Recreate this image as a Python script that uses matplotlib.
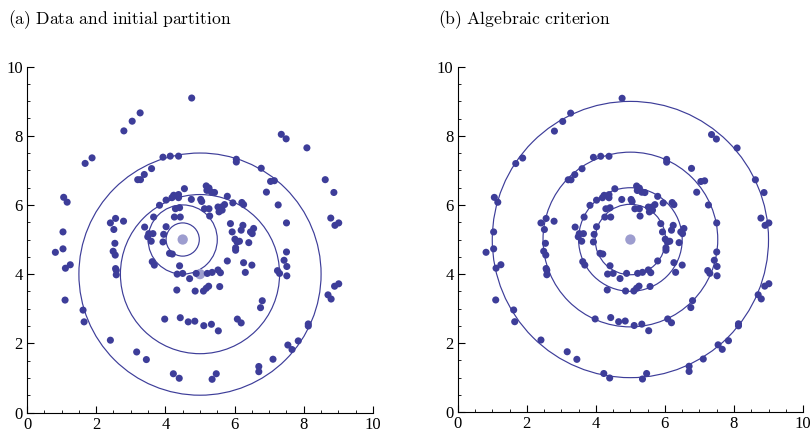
import matplotlib
matplotlib.use("Agg")
import matplotlib.pyplot as plt
from matplotlib.patches import Circle
from matplotlib.ticker import MultipleLocator
import numpy as np

# ─── Data ─────────────────────────────────────────────────────────────────────
# outer ring
x_outer = [4.76, 3.27, 3.04, 2.80, 1.88, 1.68, 1.06, 1.16, 1.04, 1.04, 0.82, 1.11,
           1.25, 1.10, 1.62, 1.65, 2.41, 3.17, 3.45, 4.23, 4.40, 5.35, 5.47, 6.70,
           6.70, 7.11, 7.54, 7.66, 7.84, 8.13, 8.13, 8.70, 8.79, 8.89, 9.01, 8.78,
           8.90, 9.01, 8.87, 8.62, 8.09, 7.49, 7.35]
y_outer = [9.09, 8.66, 8.42, 8.14, 7.36, 7.20, 6.22, 6.08, 5.22, 4.73, 4.63, 4.17,
           4.27, 3.25, 2.96, 2.62, 2.09, 1.75, 1.53, 1.12, 0.99, 0.96, 1.12, 1.33,
           1.18, 1.54, 1.95, 1.82, 2.07, 2.56, 2.50, 3.40, 3.28, 3.65, 3.72, 5.62,
           5.41, 5.48, 6.36, 6.73, 7.65, 7.91, 8.04]

# middle ring
x_mid = [3.93, 4.14, 4.38, 6.05, 6.05, 6.77, 7.04, 7.15, 6.92, 7.26, 7.50, 3.60,
         3.39, 3.20, 3.28, 2.56, 2.41, 2.79, 2.51, 2.54, 2.49, 2.55, 2.56, 2.58,
         2.58, 3.98, 4.43, 4.66, 4.85, 5.11, 5.33, 5.53, 6.08, 6.19, 6.75, 6.80,
         7.24, 7.30, 7.43, 7.51, 7.51, 7.50]
y_mid = [7.38, 7.41, 7.41, 7.32, 7.24, 7.06, 6.68, 6.70, 6.37, 6.00, 5.48, 7.05,
         6.88, 6.73, 6.73, 5.61, 5.48, 5.53, 5.29, 4.89, 4.66, 4.55, 4.16, 4.11,
         3.98, 2.70, 2.74, 2.62, 2.64, 2.51, 2.55, 2.36, 2.70, 2.59, 3.03, 3.23,
         4.10, 4.02, 4.40, 4.22, 3.95, 4.64]

# two inner rings
x_inner = [4.55, 5.18, 5.26, 5.33, 5.42, 5.20, 5.79, 6.21, 6.26, 5.02, 5.05, 4.75,
           3.83, 4.38, 4.02, 4.19, 4.24, 4.38, 4.29, 4.41, 4.26, 4.43, 5.13, 5.26,
           5.28, 5.52, 5.62, 5.55, 5.64, 5.71, 5.95, 5.88, 6.24, 5.93, 6.19, 6.55,
           6.51, 6.46, 6.01, 6.07, 6.14, 6.41, 4.02, 3.95, 3.93, 3.66, 3.40, 3.64,
           3.52, 3.49, 3.59, 6.03, 6.03, 3.62, 3.68, 4.12, 4.20, 4.41, 4.34, 4.50,
           4.70, 4.89, 5.21, 5.35, 5.52, 5.59, 5.79, 6.26, 6.31, 6.50, 4.33, 4.86,
           5.10, 5.18, 5.25, 5.57]
y_inner = [6.47, 6.55, 6.49, 6.37, 6.36, 6.42, 6.25, 6.07, 6.01, 6.16, 6.10, 6.16,
           5.99, 6.21, 6.14, 6.21, 6.28, 6.30, 5.89, 5.92, 5.65, 5.65, 5.89, 5.89,
           5.68, 5.94, 5.94, 5.80, 5.85, 6.01, 6.06, 5.46, 5.41, 5.22, 5.27, 5.32,
           5.17, 5.22, 5.01, 4.93, 4.95, 4.91, 5.37, 5.15, 4.93, 5.65, 5.36, 5.17,
           5.17, 5.08, 4.95, 4.76, 4.69, 4.36, 4.26, 4.60, 4.58, 4.24, 4.00, 4.02,
           3.87, 4.02, 4.02, 4.05, 4.12, 4.04, 4.38, 4.33, 4.05, 4.26, 3.54, 3.51,
           3.51, 3.59, 3.65, 3.64]

# circles: (a) initial partition, (b) algebraic fit
a_cx = [4.5, 4.5, 5.0, 5.0]
a_cy = [5.0, 5.0, 4.0, 4.0]
a_r = [0.48, 1.0, 2.3, 3.5]
b_cx = [5.0, 5.0, 5.0, 5.0]
b_cy = [5.0, 5.0, 5.0, 5.0]
b_r = [1.02, 1.5, 2.53, 4.0]

titles = ["(a) Data and initial partition", "(b) Algebraic criterion"]

# ─── Style ────────────────────────────────────────────────────────────────────
POINT = "#3d3d99"
CENTER = "#9d9dcf"
plt.rcParams["mathtext.fontset"] = "cm"
plt.rcParams["font.family"] = ["Liberation Serif", "DejaVu Serif"]

xs = np.array(x_outer + x_mid + x_inner)
ys = np.array(y_outer + y_mid + y_inner)

fig = plt.figure(figsize=(8.11, 4.42), dpi=100)
axes = [fig.add_axes([0.0333, 0.0656, 0.4266, 0.785]),
        fig.add_axes([0.5644, 0.0656, 0.4258, 0.785])]

for ax, cxs, cys, rs, title in zip(axes, [a_cx, b_cx], [a_cy, b_cy],
                                   [a_r, b_r], titles):
    for cx, cy, r in zip(cxs, cys, rs):
        ax.add_patch(Circle((cx, cy), r, fill=False, edgecolor=POINT,
                            linewidth=0.85, zorder=2))
    centres = sorted(set(zip(cxs, cys)))
    ax.scatter([c[0] for c in centres], [c[1] for c in centres], s=55,
               color=CENTER, edgecolors="none", zorder=3)
    ax.scatter(xs, ys, s=26, color=POINT, edgecolors="none", zorder=4)

    ax.set_xlim(0, 10)
    ax.set_ylim(0, 10)
    ax.set_aspect("equal", adjustable="box")
    ax.spines[["top", "right"]].set_visible(False)
    ax.xaxis.set_minor_locator(MultipleLocator(0.5))
    ax.yaxis.set_minor_locator(MultipleLocator(0.5))
    ax.tick_params(which="major", direction="in", length=5, width=0.8,
                   labelsize=12, pad=3)
    ax.tick_params(which="minor", direction="in", length=2.5, width=0.6)
    ax.set_xticks([0, 2, 4, 6, 8, 10])
    ax.set_yticks([0, 2, 4, 6, 8, 10])

    words = title.replace(" ", r"\ ")
    pos = ax.get_position()
    fig.text(pos.x0 - 0.024, 0.955, r"$\mathrm{" + words + "}$",
             fontsize=12.7, ha="left", va="center")

fig.savefig("out.png", dpi=100)
